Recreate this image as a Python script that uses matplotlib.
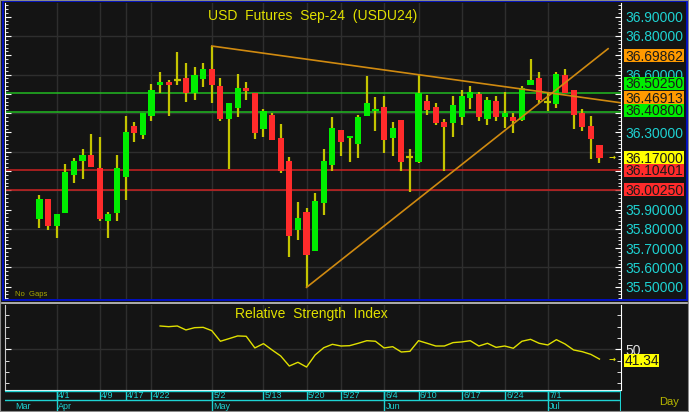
import numpy as np
import matplotlib
matplotlib.use("Agg")
import matplotlib.pyplot as plt
import matplotlib.transforms as mtransforms
from matplotlib.patches import Rectangle
from matplotlib.lines import Line2D
from matplotlib.ticker import FuncFormatter, MultipleLocator

plt.rcParams['font.family'] = ['Liberation Sans', 'DejaVu Sans']

# ---- data (TFEX USD futures, daily bars) ----
dates = ["3/28", "3/29", "4/1", "4/2", "4/3", "4/4", "4/5", "4/9", "4/10", "4/11",
         "4/17", "4/18", "4/19", "4/22", "4/23", "4/24", "4/25", "4/26", "4/29", "4/30",
         "5/2", "5/3", "5/7", "5/8", "5/9", "5/10", "5/13", "5/14", "5/15", "5/16",
         "5/17", "5/20", "5/21", "5/23", "5/24", "5/27", "5/28", "5/29", "5/30", "5/31",
         "6/4", "6/5", "6/6", "6/7", "6/10", "6/11", "6/12", "6/13", "6/14", "6/17",
         "6/18", "6/19", "6/20", "6/21", "6/24", "6/25", "6/26", "6/27", "6/28", "7/1",
         "7/2", "7/3", "7/4", "7/5", "7/8", "7/9"]

opens = [35.851, 35.955, 35.815, 35.884, 36.081, 36.150, 36.183, 36.116, 35.843, 35.884,
         36.071, 36.333, 36.288, 36.387, 36.548, 36.562, 36.570, 36.581, 36.506, 36.577,
         36.629, 36.541, 36.368, 36.428, 36.529, 36.503, 36.318, 36.390, 36.273, 36.153,
         35.794, 35.886, 35.684, 35.933, 36.131, 36.313, 36.270, 36.240, 36.387, 36.411,
         36.430, 36.270, 36.365, 36.171, 36.148, 36.461, 36.432, 36.353, 36.351, 36.379,
         36.480, 36.501, 36.370, 36.461, 36.379, 36.380, 36.365, 36.548, 36.581, 36.459,
         36.449, 36.600, 36.520, 36.399, 36.334, 36.233]
highs = [35.976, 35.957, 35.878, 36.135, 36.166, 36.214, 36.292, 36.275, 35.888, 36.183,
         36.384, 36.353, 36.401, 36.551, 36.612, 36.572, 36.719, 36.660, 36.639, 36.660,
         36.748, 36.581, 36.451, 36.601, 36.562, 36.503, 36.422, 36.402, 36.344, 36.174,
         35.938, 35.907, 35.985, 36.214, 36.382, 36.313, 36.284, 36.390, 36.593, 36.482,
         36.491, 36.356, 36.365, 36.214, 36.598, 36.494, 36.451, 36.371, 36.491, 36.520,
         36.541, 36.511, 36.482, 36.491, 36.511, 36.399, 36.541, 36.681, 36.612, 36.503,
         36.612, 36.629, 36.520, 36.422, 36.385, 36.233]
lows = [35.805, 35.794, 35.755, 35.880, 36.040, 36.060, 36.121, 35.843, 35.755, 35.843,
        35.951, 36.250, 36.268, 36.359, 36.506, 36.387, 36.548, 36.458, 36.468, 36.537,
        36.451, 36.359, 36.110, 36.379, 36.467, 36.268, 36.278, 36.261, 36.091, 35.656,
        35.743, 35.497, 35.684, 35.872, 36.102, 36.178, 36.148, 36.169, 36.387, 36.309,
        36.192, 36.180, 36.102, 35.993, 36.140, 36.389, 36.340, 36.102, 36.278, 36.340,
        36.420, 36.358, 36.340, 36.358, 36.322, 36.299, 36.358, 36.548, 36.454, 36.413,
        36.428, 36.506, 36.319, 36.309, 36.161, 36.140]
closes = [35.955, 35.815, 35.877, 36.095, 36.153, 36.183, 36.121, 35.851, 35.877, 36.116,
          36.302, 36.299, 36.401, 36.520, 36.562, 36.548, 36.570, 36.506, 36.600, 36.627,
          36.546, 36.368, 36.451, 36.529, 36.516, 36.299, 36.411, 36.261, 36.102, 35.765,
          35.855, 35.665, 35.945, 36.153, 36.323, 36.250, 36.282, 36.382, 36.451, 36.421,
          36.261, 36.322, 36.148, 36.171, 36.503, 36.416, 36.351, 36.330, 36.441, 36.491,
          36.508, 36.379, 36.470, 36.379, 36.399, 36.359, 36.529, 36.570, 36.468, 36.459,
          36.601, 36.506, 36.389, 36.330, 36.268, 36.170]

# RSI starts at bar 14 (4/23)
rsi_start = 14
rsi = [70.6, 70.0, 70.6, 67.1, 69.1, 69.4, 66.5, 57.1, 59.4, 61.8,
       61.5, 51.2, 55.0, 49.4, 44.1, 35.2, 38.5, 34.3, 45.0, 51.4,
       54.4, 52.9, 53.2, 55.3, 57.6, 57.1, 51.2, 52.3, 47.6, 48.2,
       57.6, 55.3, 52.9, 52.9, 55.9, 56.5, 57.6, 52.9, 55.3, 51.7,
       52.9, 50.9, 57.1, 58.8, 55.3, 53.8, 58.5, 54.7, 49.4, 47.9,
       45.5, 41.34]

green_levels = [36.5025, 36.408]
red_levels = [36.10401, 36.0025]

# trendlines as (bar, price) anchors, value at last bar is tagged on the axis
down_trend = [("5/2", 36.748), ("7/9", 36.46913)]
up_trend = [("5/20", 35.497), ("7/9", 36.69862)]

tick_dates = ["4/1", "4/9", "4/17", "4/22", "5/2", "5/13", "5/20", "5/27",
              "6/4", "6/10", "6/17", "6/24", "7/1"]
month_names = ["Apr", "May", "Jun", "Jul"]
month_starts = ["4/1", "5/2", "6/4", "7/1"]

# ---- colours ----
BG = '#141414'
GRID = '#2e2e2e'
UP = '#00ee00'
DOWN = '#ff2b2b'
WICK = '#c4c400'
YELLOW = '#e0e000'
CYAN = '#1ed2d2'
ORANGE = '#ff9a00'
TREND = '#d08a10'

W, H = 689, 412
fig = plt.figure(figsize=(W / 100, H / 100), dpi=100, facecolor=BG)
PX = mtransforms.IdentityTransform()


def box(x0, y0, x1, y1):
    # pixel box (origin top-left) -> figure fraction rect
    return [x0 / W, 1 - y1 / H, (x1 - x0) / W, (y1 - y0) / H]


def tag(axis, v, fc, text, up_px=0, width=60):
    # coloured value box just right of the axis
    xd = axis.transAxes.transform((1, 0))[0]
    yd = axis.transData.transform((0, v))[1] + up_px
    fig.add_artist(Rectangle((xd + 3, yd - 6.5), width, 13, transform=PX,
                             fc=fc, ec='none', zorder=8))
    fig.text(xd + 4, yd - 5, text, transform=PX, ha='left', va='baseline',
             fontsize=10, color='#1a1a1a', zorder=9)


XLIM = (-4, 67.5)
x = np.arange(len(closes))
o, hi, lo, c = map(np.array, (opens, highs, lows, closes))
tick_idx = [dates.index(d) for d in tick_dates]

# ---------------- price panel ----------------
ax = fig.add_axes(box(5, 3, 621, 299), facecolor=BG)
ax.set_xlim(*XLIM)
ax.set_ylim(35.4366, 36.971)

for v in np.arange(35.6, 36.81, 0.2):
    ax.axhline(v, color=GRID, lw=1, zorder=0.5)
ax.set_xticks(tick_idx)
ax.grid(True, axis='x', color=GRID, lw=1)
ax.set_axisbelow(True)

for v in green_levels:
    ax.axhline(v, color='#22bb22', lw=1.1, zorder=2)
for v in red_levels:
    ax.axhline(v, color='#cc2222', lw=1.1, zorder=2)

ax.vlines(x, lo, hi, color=WICK, lw=1.6, zorder=3)
body = np.abs(c - o)
doji = body < 0.002
cols = np.where(c >= o, UP, DOWN)
ax.bar(x[~doji], body[~doji], bottom=np.minimum(o, c)[~doji], width=0.72,
       color=cols[~doji], zorder=4)
ax.hlines(c[doji], x[doji] - 0.4, x[doji] + 0.4, color=WICK, lw=1.6, zorder=4)


def trend(pts, x_end):
    (d0, y0), (d1, y1) = pts
    x0, x1 = dates.index(d0), dates.index(d1)
    k = (y1 - y0) / (x1 - x0)
    return [x0, x_end], [y0, y0 + k * (x_end - x0)]


tx, ty = trend(down_trend, XLIM[1])
ax.plot(tx, ty, color=TREND, lw=1.2, zorder=5)
tx, ty = trend(up_trend, len(closes))
ax.plot(tx, ty, color=TREND, lw=1.2, zorder=5)

# tick labels hidden under the value boxes
hidden = {36.7, 36.5, 36.4, 36.2, 36.1, 36.0}
ax.yaxis.tick_right()
ax.set_yticks(np.round(np.arange(35.5, 36.95, 0.1), 1))
ax.yaxis.set_major_formatter(FuncFormatter(
    lambda v, p: '' if round(v, 1) in hidden else f"{v:.5f}"))
ax.yaxis.set_minor_locator(MultipleLocator(0.02))
ax.tick_params(axis='y', which='both', direction='in', color='white',
               left=True, right=True, labelleft=False, labelright=True)
ax.tick_params(axis='y', which='major', length=4, labelsize=10,
               labelcolor=CYAN, pad=3)
ax.tick_params(axis='y', which='minor', length=2.5)
ax.tick_params(axis='x', length=0, labelbottom=False)
for s in ('top', 'bottom'):
    ax.spines[s].set_visible(False)
for s in ('left', 'right'):
    ax.spines[s].set_color('white')

tf = mtransforms.blended_transform_factory(ax.transAxes, ax.transData)
tag(ax, up_trend[1][1], ORANGE, f"{up_trend[1][1]:.5f}")
tag(ax, green_levels[0], UP, f"{green_levels[0]:.5f}", up_px=10)
tag(ax, down_trend[1][1], ORANGE, f"{down_trend[1][1]:.5f}", up_px=2)
tag(ax, green_levels[1], UP, f"{green_levels[1]:.5f}", up_px=1.5)
tag(ax, closes[-1], '#ffff00', f"{closes[-1]:.5f}")
tag(ax, red_levels[0], DOWN, f"{red_levels[0]:.5f}")
tag(ax, red_levels[1], DOWN, f"{red_levels[1]:.5f}")
ax.text(0.985, closes[-1], '→', transform=tf, color=YELLOW, fontsize=6,
        ha='center', va='center', family='DejaVu Sans', fontweight='bold')

ax.text(0.5, 0.956, 'USD  Futures  Sep-24  (USDU24)', transform=ax.transAxes,
        ha='center', va='center', color=YELLOW, fontsize=10)
ax.text(0.016, 0.014, 'No  Gaps', transform=ax.transAxes, ha='left',
        va='center', color='#a8a800', fontsize=5.5)

# ---------------- RSI panel ----------------
axr = fig.add_axes(box(5, 304.5, 621, 390), facecolor=BG)
axr.set_xlim(*XLIM)
axr.set_ylim(14, 89.6)
axr.set_xticks(tick_idx)
axr.grid(True, axis='x', color=GRID, lw=1)
axr.axhline(50, color=GRID, lw=1, zorder=0.5)
axr.set_axisbelow(True)
xr = np.arange(rsi_start, rsi_start + len(rsi))
axr.plot(xr, rsi, color=YELLOW, lw=1, zorder=3)

axr.yaxis.tick_right()
axr.set_yticks([50])
axr.yaxis.set_minor_locator(MultipleLocator(10))
axr.tick_params(axis='y', which='both', direction='in', color='white',
                left=True, right=True, labelleft=False, labelright=True)
axr.tick_params(axis='y', which='major', length=4, labelsize=10,
                labelcolor='#e0e0e0', pad=3)
axr.tick_params(axis='y', which='minor', length=3)
axr.tick_params(axis='x', length=0, labelbottom=False)
axr.spines['top'].set_visible(False)
axr.spines['left'].set_color('#c8c8c8')
axr.spines['right'].set_color('white')
axr.spines['bottom'].set_color('white')

tfr = mtransforms.blended_transform_factory(axr.transAxes, axr.transData)
tag(axr, rsi[-1], '#ffff00', f"{rsi[-1]:.2f}", up_px=-1, width=35)
axr.text(0.985, rsi[-1], '→', transform=tfr, color=YELLOW, fontsize=6,
         ha='center', va='center', family='DejaVu Sans', fontweight='bold')
axr.text(0.498, 0.885, 'Relative  Strength  Index', transform=axr.transAxes,
         ha='center', va='center', color=YELLOW, fontsize=10)

# ---------------- date axis ----------------
axd = fig.add_axes(box(5, 390, 621, 412))
axd.set_xlim(*XLIM)
axd.set_ylim(0, 1)
axd.axis('off')
axd.axhline(0.955, color=CYAN, lw=1)
axd.axhline(0.545, color=CYAN, lw=1)
axd.vlines(tick_idx, 0.545, 0.955, color=CYAN, lw=1)
month_idx = [dates.index(d) for d in month_starts]
axd.vlines(month_idx, 0, 0.955, color=CYAN, lw=1)
axd.vlines([XLIM[1]], 0, 0.955, color=CYAN, lw=1.5)
for d, i in zip(tick_dates, tick_idx):
    axd.annotate(d, (i, 0.75), xytext=(1.0, 0), textcoords='offset points',
                 ha='left', va='center', fontsize=6.5, color=CYAN)
for m, i in zip(["Mar"] + month_names, [XLIM[0] + 1] + month_idx):
    axd.annotate(m, (i, 0.27), xytext=(1.0, 0), textcoords='offset points',
                 ha='left', va='center', fontsize=6.5, color=CYAN)
fig.text(669 / W, 1 - 402 / H, 'Day', color='#b8b800', fontsize=8,
         ha='center', va='center')

# ---------------- frames ----------------
fig.add_artist(Rectangle((2.5 / W, 1 - 300 / H), 684.5 / W, 299 / H,
                         transform=fig.transFigure, fill=False,
                         ec='#0010d0', lw=1.3))
fig.add_artist(Line2D([2 / W, 687 / W], [1 - 302.8 / H] * 2,
                      transform=fig.transFigure, color='#c8c8c8', lw=1.2))
fig.add_artist(Rectangle((0, 0), 1, 1, transform=fig.transFigure, fill=False,
                         ec='#8a8a8a', lw=1.5))

fig.savefig('out.png', dpi=100, facecolor=BG)
